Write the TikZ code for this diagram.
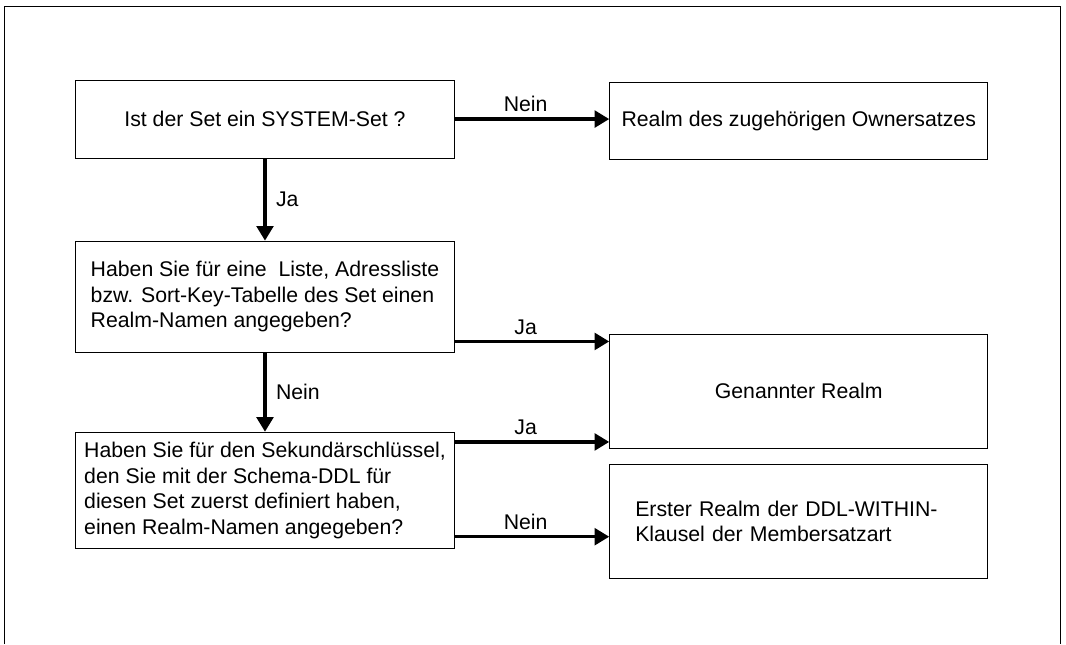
\documentclass[tikz,border=0pt]{standalone}
\usepackage{fontspec}
\setmainfont{Liberation Sans}
\usetikzlibrary{arrows.meta,calc}
\tikzset{
  box/.style={draw,line width=.75pt,minimum width=10cm,inner sep=0pt,font=\fontsize{16}{19.2}\selectfont},
  flow/.style={line width=2.6pt,-{Triangle[length=11pt,width=12.5pt]}},
  tag/.style={font=\fontsize{16}{19.2}\selectfont,inner sep=3pt}
}

\begin{document}
\begin{tikzpicture}
\useasboundingbox (0,0) rectangle (28.2,17.04);
\draw[line width=.75pt] (.13,0) |- (28.05,16.88) -- (28.05,0);
\node[box,minimum height=2.06cm] (ask1) at (7.01,13.89) {Ist der Set ein SYSTEM-Set ?};
\node[box,minimum height=2.94cm,align=left] (ask2) at (7.01,9.19) {Haben Sie für eine~ Liste, Adressliste\\bzw. Sort-Key-Tabelle des Set einen\\Realm-Namen angegeben?};
\node[box,minimum height=3.07cm,align=left] (ask3) at (7.01,4.07) {Haben Sie für den Sekundärschlüssel,\\den Sie mit der Schema-DDL für\\diesen Set zuerst definiert haben,\\einen Realm-Namen angegeben?};
\node[box,minimum height=2.06cm] (owner) at (21.13,13.84) {Realm des zugehörigen Ownersatzes};
\node[box,minimum height=3.02cm] (named) at (21.13,6.69) {Genannter Realm};
\node[box,minimum height=3.02cm,text width=8.65cm,inner xsep=.66cm,align=left] (within) at (21.13,3.25) {Erster Realm der DDL-WITHIN-\\Klausel der Membersatzart};
\draw[flow] (ask1.east) -- node[tag,above=1pt,pos=.46]{Nein} (ask1.east -| owner.west);
\draw[flow] (ask1) -- node[tag,right=4pt]{Ja} (ask2);
\draw[flow] ([yshift=.3cm]ask2.south east) -- node[tag,above=1pt,pos=.46]{Ja} ([yshift=.3cm]ask2.south east -| named.west);
\draw[flow] (ask2) -- node[tag,right=4pt]{Nein} (ask3);
\draw[flow] ([yshift=-.27cm]ask3.north east) -- node[tag,above=1pt,pos=.46]{Ja} ([yshift=-.27cm]ask3.north east -| named.west);
\draw[flow] ([yshift=.32cm]ask3.south east) -- node[tag,above=1pt,pos=.46]{Nein} ([yshift=.32cm]ask3.south east -| within.west);
\end{tikzpicture}
\end{document}
